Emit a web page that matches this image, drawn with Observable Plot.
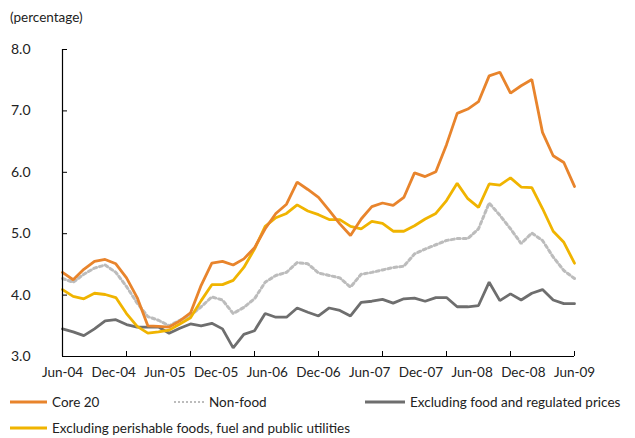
<!DOCTYPE html>
<html><head><meta charset="utf-8">
<script src="https://cdn.jsdelivr.net/npm/d3@7"></script>
<script src="https://cdn.jsdelivr.net/npm/@observablehq/plot@0.6"></script>
<style>
body{margin:0;background:#fff;font-family:Lato,"Open Sans",sans-serif;color:#222;width:635px;overflow:hidden}
#title{height:36px;font-size:13.5px;padding-left:10px;line-height:34px;box-sizing:border-box}
#legend{position:relative;height:50px;font-size:13.5px}
.item{position:absolute;display:flex;align-items:center;white-space:nowrap;height:20px}
.item svg{margin-right:5px}
</style></head><body>
<div id="title">(percentage)</div>
<div id="chart"></div>
<div id="legend"></div>
<script>
const xLabels = ["Jun-04","Dec-04","Jun-05","Dec-05","Jun-06","Dec-06","Jun-07","Dec-07","Jun-08","Dec-08","Jun-09"];
const yTicks = [3, 4, 5, 6, 7, 8];

const core20 = [4.37,4.25,4.42,4.55,4.58,4.51,4.28,3.96,3.50,3.49,3.48,3.58,3.71,4.16,4.52,4.55,4.49,4.59,4.77,5.08,5.33,5.48,5.84,5.72,5.59,5.38,5.16,4.97,5.24,5.44,5.50,5.46,5.59,5.99,5.93,6.01,6.45,6.96,7.03,7.15,7.57,7.63,7.29,7.41,7.51,6.65,6.27,6.16,5.77];
const nonFood = [4.27,4.21,4.34,4.44,4.49,4.37,4.14,3.87,3.65,3.59,3.50,3.59,3.67,3.81,3.97,3.92,3.70,3.80,3.94,4.21,4.32,4.37,4.53,4.51,4.36,4.32,4.28,4.13,4.34,4.37,4.41,4.45,4.47,4.67,4.75,4.82,4.89,4.92,4.92,5.08,5.50,5.30,5.08,4.84,5.01,4.89,4.62,4.40,4.27];
const exFoodRegulated = [3.45,3.40,3.34,3.45,3.58,3.60,3.52,3.48,3.48,3.48,3.38,3.46,3.53,3.50,3.54,3.45,3.14,3.36,3.42,3.70,3.64,3.64,3.79,3.72,3.66,3.79,3.75,3.66,3.88,3.90,3.93,3.87,3.94,3.95,3.90,3.96,3.96,3.81,3.81,3.83,4.21,3.91,4.02,3.92,4.03,4.09,3.92,3.86,3.86];
const exPerishables = [4.09,3.98,3.94,4.03,4.01,3.96,3.70,3.49,3.38,3.40,3.43,3.53,3.63,3.91,4.17,4.17,4.24,4.45,4.75,5.12,5.26,5.33,5.47,5.37,5.31,5.23,5.23,5.12,5.08,5.20,5.17,5.04,5.04,5.13,5.24,5.33,5.54,5.82,5.57,5.43,5.81,5.79,5.91,5.76,5.75,5.41,5.04,4.86,4.52];

const seriesNames = ["Core 20","Non-food","Excluding food and regulated prices","Excluding perishable foods, fuel and public utilities"];
const seriesColors = ["#e8842c","#bcbcbc","#6e6e6e","#f0b400"];

const n = core20.length;
const last = n - 1;
const labelPos = xLabels.map((_, i) => i * last / (xLabels.length - 1));
const tickPos = d3.range(0, n, 6);

const width = 635, height = 352, mL = 62, mR = 61, mT = 13, mB = 32;
const frameW = width - mL - mR, frameH = height - mT - mB;

const lineOpts = (color, extra = {}) => ({x: (d, i) => i, y: d => d, stroke: color, strokeWidth: 2.8, strokeLinejoin: "miter", ...extra});

const plot = Plot.plot({
  width, height, marginLeft: mL, marginRight: mR, marginTop: mT, marginBottom: mB,
  x: {type: "linear", domain: [0, last]},
  y: {domain: [3, 8]},
  style: {fontFamily: "Lato, 'Open Sans', sans-serif", color: "#222", background: "#fff"},
  marks: [
    Plot.axisY({ticks: yTicks, tickSize: 0, tickPadding: 32, tickFormat: d => d.toFixed(1), fontSize: 14, label: null}),
    Plot.axisX({ticks: labelPos, tickSize: 0, tickPadding: 11, tickFormat: d => xLabels[Math.round(d / (last / (xLabels.length - 1)))], fontSize: 13.5, label: null}),
    Plot.line(nonFood, lineOpts(seriesColors[1], {strokeDasharray: "3,3", strokeWidth: 3})),
    Plot.line(exFoodRegulated, lineOpts(seriesColors[2])),
    Plot.line(exPerishables, lineOpts(seriesColors[3])),
    Plot.line(core20, lineOpts(seriesColors[0])),
    Plot.tickY(yTicks, {y: d => d, insetRight: frameW - 5, stroke: "#000", strokeWidth: 1}),
    Plot.tickX(tickPos, {x: d => d, insetTop: frameH - 5, stroke: "#000", strokeWidth: 1}),
    Plot.ruleX([0], {stroke: "#000", strokeWidth: 1.2}),
    Plot.ruleY([3], {stroke: "#000", strokeWidth: 1.2})
  ]
});
document.getElementById("chart").appendChild(plot);

// legend
const legendLayout = [
  {left: 10, top: 4, sw: 37},
  {left: 174, top: 4, sw: 30},
  {left: 365, top: 4, sw: 40},
  {left: 10, top: 30, sw: 37}
];
const legend = document.getElementById("legend");
seriesNames.forEach((name, k) => {
  const L = legendLayout[k];
  const div = document.createElement("div");
  div.className = "item";
  div.style.left = L.left + "px";
  div.style.top = L.top + "px";
  const dash = k === 1 ? ' stroke-dasharray="2,2"' : "";
  div.innerHTML = `<svg width="${L.sw}" height="6"><line x1="0" x2="${L.sw}" y1="3" y2="3" stroke="${seriesColors[k]}" stroke-width="${k === 1 ? 2 : 3}"${dash}/></svg><span>${name}</span>`;
  legend.appendChild(div);
});
</script>
</body></html>
